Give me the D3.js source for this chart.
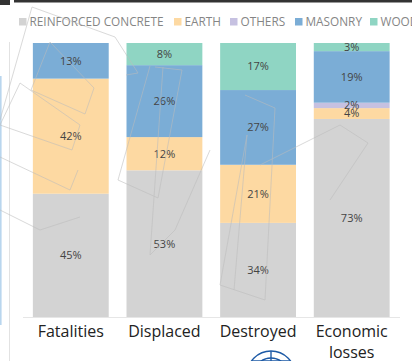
<!DOCTYPE html>
<html><head><meta charset="utf-8">
<script src="https://cdn.jsdelivr.net/npm/d3@7"></script>
<style>
html,body{margin:0;padding:0;background:#fff;}
svg{display:block;}
</style></head>
<body>
<svg id="chart" width="412" height="361"></svg>
<script>
const categories = ["Fatalities", "Displaced", "Destroyed", "Economic losses"];
const seriesNames = ["REINFORCED CONCRETE", "EARTH", "OTHERS", "MASONRY", "WOOD"];
const concrete = [45, 53, 34, 73];
const earth    = [42, 12, 21, 4];
const others   = [0, 0, 0, 2];
const masonry  = [13, 26, 27, 19];
const wood     = [0, 8, 17, 3];
const colors = ["#d3d3d3", "#fdd9a2", "#c6c1e1", "#7badd6", "#8fd5c3"];

const seriesValues = [concrete, earth, others, masonry, wood];
const rows = categories.map((c, i) => {
  const r = {category: c};
  seriesNames.forEach((s, j) => r[s] = seriesValues[j][i]);
  return r;
});

const svg = d3.select("#chart");

// background decorations
svg.append("rect").attr("x", 0).attr("y", 0).attr("width", 10).attr("height", 5).attr("fill", "#333");
svg.append("rect").attr("x", 14).attr("y", 0).attr("width", 398).attr("height", 2.5).attr("fill", "#333");
svg.append("line").attr("x1", 9.5).attr("x2", 9.5).attr("y1", 42).attr("y2", 361).attr("stroke", "#e2e2e2");
svg.append("line").attr("x1", 0.8).attr("x2", 0.8).attr("y1", 76).attr("y2", 325).attr("stroke", "#b9d6ee").attr("stroke-width", 1.6);

const x = d3.scaleBand().domain(categories).range([23.5, 399]).paddingInner(0.19).paddingOuter(0.1);
const y = d3.scaleLinear().domain([0, 1]).range([317, 43]);

const stack = d3.stack().keys(seriesNames).offset(d3.stackOffsetExpand);
const stacked = stack(rows);

const g = svg.append("g");
stacked.forEach((layer, j) => {
  g.selectAll(null).data(layer.filter(d => d.data[layer.key] > 0)).enter().append("rect")
    .attr("x", d => x(d.data.category))
    .attr("width", x.bandwidth())
    .attr("y", d => y(d[1]))
    .attr("height", d => y(d[0]) - y(d[1]))
    .attr("fill", colors[j]);
});

// baseline
svg.append("line").attr("x1", 23).attr("x2", 400).attr("y1", 317.5).attr("y2", 317.5).attr("stroke", "#e6e6e6");

// labels
stacked.forEach((layer, j) => {
  g.selectAll(null).data(layer.filter(d => d.data[layer.key] > 0)).enter().append("text")
    .attr("x", d => x(d.data.category) + x.bandwidth() / 2)
    .attr("y", d => (y(d[0]) + y(d[1])) / 2)
    .attr("dy", "0.35em")
    .attr("text-anchor", "middle")
    .attr("font-family", "Open Sans, sans-serif")
    .attr("font-size", 11)
    .attr("fill", "#444")
    .text(d => d.data[layer.key] + "%");
});

// x axis labels
const xAxis = svg.append("g");
categories.forEach(c => {
  const words = c === "Economic losses" ? ["Economic", "losses"] : [c];
  const t = xAxis.append("text")
    .attr("x", x(c) + x.bandwidth() / 2)
    .attr("y", 337)
    .attr("text-anchor", "middle")
    .attr("font-family", "Open Sans, sans-serif")
    .attr("font-size", 16)
    .attr("fill", "#222");
  words.forEach((w, i) => t.append("tspan").attr("x", x(c) + x.bandwidth() / 2).attr("dy", i ? 20.5 : 0).text(w));
});

// legend
const legendX = [19, 174, 230, 295, 370];
seriesNames.forEach((s, j) => {
  svg.append("rect").attr("x", legendX[j]).attr("y", 18).attr("width", 7.5).attr("height", 7.5).attr("fill", colors[j]);
  svg.append("text").attr("x", legendX[j] + 10.5).attr("y", 26)
    .attr("font-family", "Open Sans, sans-serif").attr("font-size", 11.8).attr("fill", "#858585")
    .text(s);
});

// faint decorative outlines
const deco = svg.append("g").attr("fill", "none").attr("stroke", "#bdbdbd").attr("stroke-width", 0.8).attr("opacity", 0.7);
deco.append("polyline").attr("points", "0,120 32,7 115,37 138,73 126,75");
deco.append("polygon").attr("points", "50,42 31,90 85,114 94,88");
deco.append("polygon").attr("points", "20,83 0,125 72,150 80,125");
deco.append("polyline").attr("points", "0,157 70,190 78,170");
deco.append("polyline").attr("points", "155,67 182,70 158,198 118,180 150,66");
deco.append("polyline").attr("points", "163,67 150,255 175,230 210,150");
deco.append("polyline").attr("points", "245,95 275,108 265,300 220,285 247,135");
deco.append("polyline").attr("points", "247,135 234,290");
deco.append("polyline").attr("points", "260,165 340,125 368,143 330,200");
deco.append("polyline").attr("points", "0,210 40,230 80,217");

// UN logo partial
const logo = svg.append("g").attr("fill", "none").attr("stroke", "#1d5aa6").attr("stroke-width", 1.4);
logo.append("circle").attr("cx", 271).attr("cy", 375).attr("r", 24);
logo.append("circle").attr("cx", 271).attr("cy", 375).attr("r", 17);
logo.append("circle").attr("cx", 271).attr("cy", 375).attr("r", 10);
logo.append("line").attr("x1", 271).attr("x2", 271).attr("y1", 351).attr("y2", 361);
logo.append("line").attr("x1", 252).attr("x2", 290).attr("y1", 361).attr("y2", 361);
</script>
</body></html>
